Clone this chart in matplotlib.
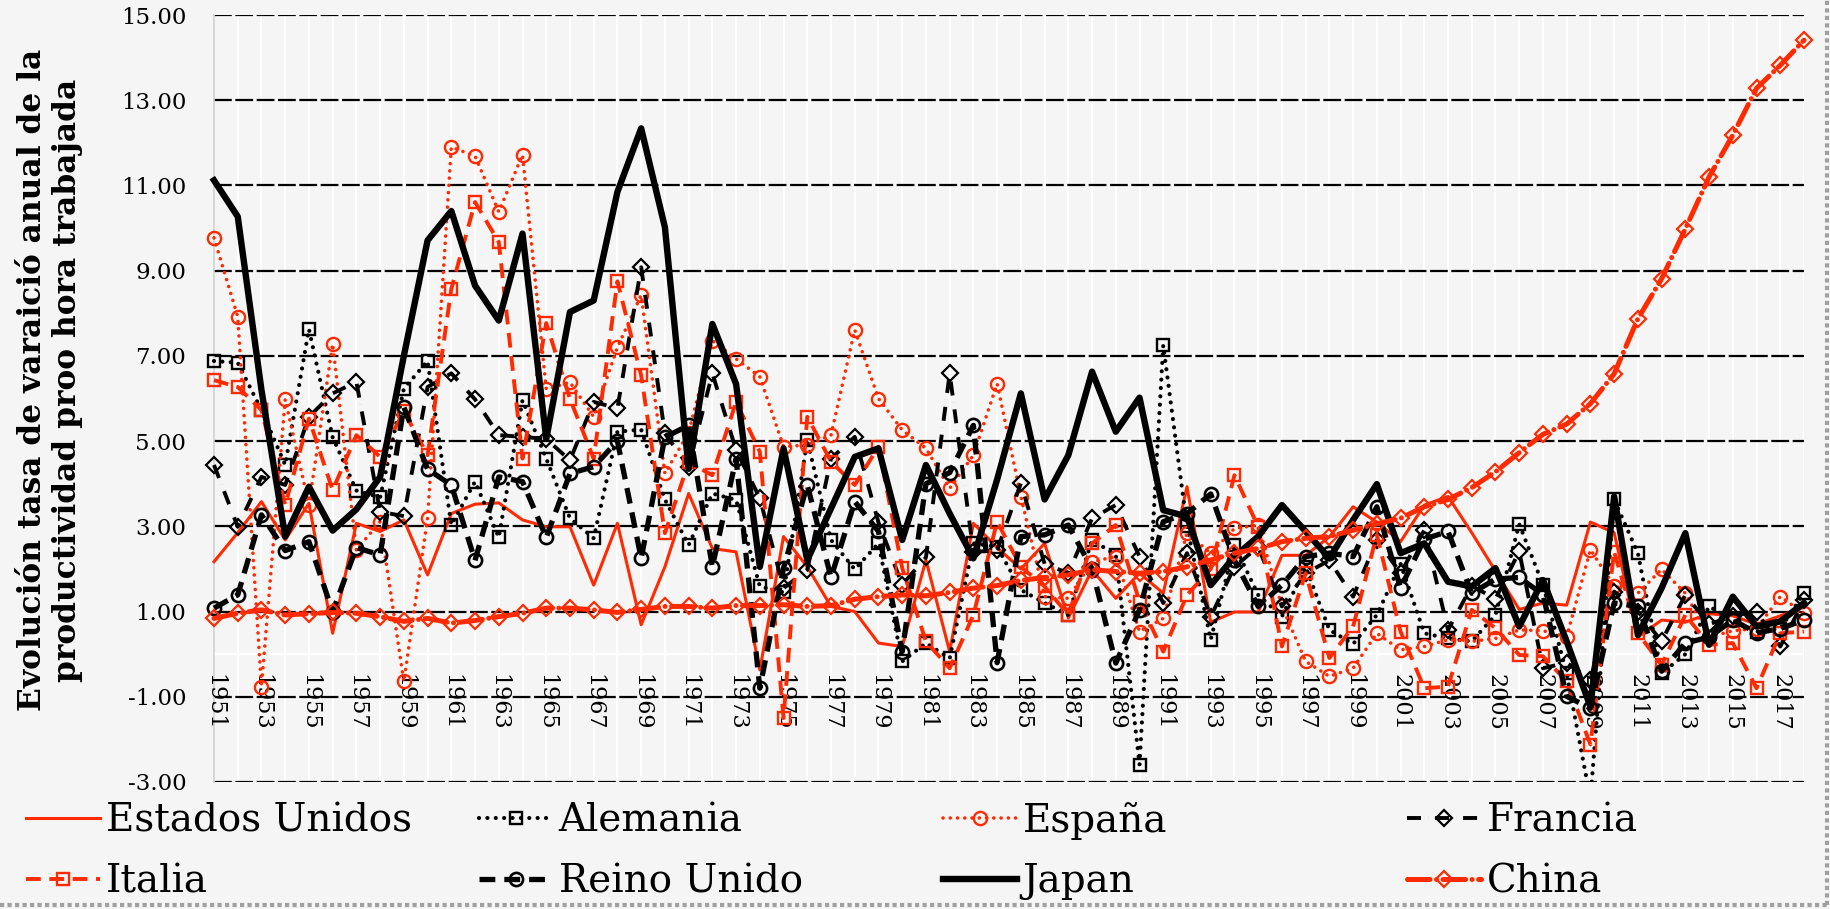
import matplotlib
matplotlib.use("Agg")
import matplotlib.pyplot as plt
from matplotlib.lines import Line2D
from matplotlib.patches import Rectangle
import numpy as np

# ---------------- data ----------------
years = list(range(1951, 2019))

estados_unidos = [2.17, 2.85, 3.58, 2.68, 3.54, 0.49, 3.07, 2.88, 3.15, 1.86,
                  3.30, 3.52, 3.55, 3.15, 2.99, 2.99, 1.62, 3.07, 0.69, 2.05,
                  3.77, 2.48, 2.40, -0.37, 2.76, 2.05, 1.12, 1.00, 0.26, 0.18,
                  2.21, 0.06, 3.07, 2.50, 2.00, 2.60, 0.85, 1.98, 1.31, 1.90,
                  1.43, 3.93, 0.75, 0.99, 0.99, 2.32, 2.32, 2.75, 3.46, 3.10,
                  2.64, 3.50, 3.70, 2.85, 1.95, 1.05, 1.20, 1.15, 3.10, 2.85,
                  0.40, 0.80, 0.75, 0.95, 0.90, 0.70, 0.90, 1.10]

alemania = [6.88, 6.84, 5.73, 4.44, 7.63, 5.09, 3.84, 3.68, 6.23, 6.88,
            3.03, 4.05, 2.74, 5.96, 4.59, 3.19, 2.72, 5.22, 5.27, 3.63,
            2.56, 3.77, 3.62, 1.59, 1.45, 5.02, 2.68, 1.99, 2.60, -0.17,
            0.26, -0.10, 2.60, 2.52, 1.51, 1.20, 0.92, 2.68, 2.33, -2.59,
            7.25, 3.00, 0.34, 2.56, 1.39, 0.88, 2.05, 0.57, 0.24, 0.92,
            2.12, 0.49, 0.37, 0.30, 0.92, 3.05, 1.63, -0.45, -3.40, 3.63,
            2.37, -0.45, 0.00, 1.12, 0.80, 0.53, 0.60, 1.43]

espana = [9.77, 7.92, -0.76, 5.98, 3.50, 7.28, 2.45, 3.11, -0.64, 3.19,
          11.90, 11.69, 10.38, 11.72, 6.22, 6.38, 5.57, 7.20, 8.43, 4.24,
          5.20, 7.36, 6.93, 6.51, 4.87, 4.91, 5.14, 7.61, 6.00, 5.26,
          4.83, 3.89, 4.67, 6.35, 3.70, 1.35, 1.31, 2.17, 2.29, 0.53,
          0.84, 2.84, 2.37, 2.95, 3.03, 1.12, -0.17, -0.52, -0.33, 0.49,
          0.10, 0.18, 0.34, 0.30, 0.37, 0.57, 0.55, 0.41, 2.45, 1.60,
          1.43, 1.99, 1.43, 0.40, 0.55, 0.60, 1.35, 0.96]

francia = [4.44, 2.99, 4.16, 3.97, 5.57, 6.12, 6.39, 3.34, 3.24, 6.27,
           6.59, 5.98, 5.14, 5.10, 5.05, 4.55, 5.92, 5.77, 9.08, 5.18,
           4.40, 6.59, 4.79, 3.66, 1.55, 1.98, 4.59, 5.10, 3.09, 1.63,
           2.27, 6.59, 2.40, 2.44, 4.01, 2.12, 1.90, 3.19, 3.50, 2.29,
           1.20, 2.37, 0.88, 2.05, 2.52, 1.12, 1.90, 2.20, 1.35, 2.68,
           1.90, 2.91, 0.57, 1.60, 1.30, 2.41, -0.33, -0.20, -0.60, 1.47,
           1.00, 0.30, 1.39, 0.70, 0.90, 1.00, 0.18, 1.27]

italia = [6.43, 6.27, 5.73, 3.50, 5.53, 3.85, 5.14, 4.63, 5.70, 4.67,
          8.57, 10.61, 9.67, 4.59, 7.77, 5.99, 4.59, 8.75, 6.54, 2.84,
          4.50, 4.20, 5.92, 4.75, -1.50, 5.57, 4.52, 3.97, 4.87, 2.02,
          0.30, -0.33, 0.92, 3.11, 2.05, 1.59, 0.92, 2.60, 3.03, 1.23,
          0.06, 1.39, 2.00, 4.20, 2.99, 0.18, 1.90, -0.09, 0.65, 2.80,
          0.53, -0.80, -0.76, 1.04, 0.61, -0.02, -0.05, -0.64, -2.12, 2.40,
          0.49, -0.25, 0.92, 0.22, 0.26, -0.80, 0.49, 0.53]

reino_unido = [1.08, 1.39, 3.27, 2.43, 2.64, 1.00, 2.50, 2.33, 5.80, 4.34,
               3.97, 2.20, 4.16, 4.05, 2.74, 4.24, 4.40, 5.00, 2.25, 5.09,
               5.37, 2.05, 4.59, -0.80, 2.02, 3.97, 1.80, 3.58, 2.88, 0.06,
               4.00, 4.26, 5.37, -0.20, 2.76, 2.80, 3.03, 2.00, -0.21, 1.04,
               3.11, 3.30, 3.76, 2.20, 1.12, 1.62, 2.29, 2.37, 2.29, 3.46,
               1.55, 2.70, 2.88, 1.43, 1.76, 1.80, 1.40, -0.99, -1.27, 1.20,
               1.12, -0.40, 0.26, 0.40, 0.80, 0.50, 0.60, 0.80]

japan = [11.12, 10.27, 6.20, 2.76, 3.93, 2.90, 3.40, 4.16, 7.00, 9.71,
         10.40, 8.65, 7.83, 9.87, 5.05, 8.03, 8.30, 10.85, 12.34, 10.02,
         4.35, 7.75, 6.34, 2.05, 4.83, 2.21, 3.42, 4.63, 4.83, 2.68,
         4.44, 3.30, 2.25, 4.10, 6.12, 3.63, 4.67, 6.63, 5.22, 6.02,
         3.38, 3.23, 1.62, 2.29, 2.76, 3.50, 2.88, 2.25, 3.15, 3.99,
         2.37, 2.60, 1.70, 1.59, 2.02, 0.65, 1.74, 0.30, -1.23, 3.70,
         0.45, 1.55, 2.84, 0.22, 1.35, 0.65, 0.77, 1.20]

china = [0.84, 0.96, 1.04, 0.92, 0.95, 0.98, 0.96, 0.88, 0.77, 0.84,
         0.73, 0.79, 0.88, 0.96, 1.08, 1.08, 1.04, 0.98, 1.05, 1.12,
         1.12, 1.08, 1.14, 1.14, 1.16, 1.12, 1.14, 1.29, 1.35, 1.39,
         1.37, 1.45, 1.55, 1.61, 1.73, 1.80, 1.86, 1.98, 1.94, 1.90,
         1.94, 2.05, 2.21, 2.37, 2.48, 2.64, 2.72, 2.76, 2.91, 3.06,
         3.19, 3.46, 3.63, 3.91, 4.28, 4.73, 5.16, 5.40, 5.88, 6.58,
         7.87, 8.81, 9.98, 11.20, 12.18, 13.28, 13.82, 14.41]

series_names = ["Estados Unidos", "Alemania", "España", "Francia",
                "Italia", "Reino Unido", "Japan", "China"]

y_ticks = [-3, -1, 1, 3, 5, 7, 9, 11, 13, 15]
y_tick_labels = ["-3.00", "-1.00", "1.00", "3.00", "5.00", "7.00",
                 "9.00", "11.00", "13.00", "15.00"]
x_label_years = list(range(1951, 2018, 2))
x_tick_labels = [str(y) for y in x_label_years]

ylabel_text = ("Evolución tasa de varaició anual de la\n"
               "productividad proo hora trabajada")

# ---------------- style ----------------
RED = "#ff2a00"
BG = "#f5f5f5"
FONT = "DejaVu Serif"
W, H = 1831, 909

fig = plt.figure(figsize=(W / 100, H / 100), dpi=100)
fig.patch.set_facecolor(BG)

left, right, top, bottom = 214, 1804, 15, 782
ax = fig.add_axes([left / W, 1 - bottom / H, (right - left) / W, (bottom - top) / H])
ax.set_facecolor(BG)
ax.set_xlim(1951, 2018)
ax.set_ylim(-3, 15)

ax.set_yticks(y_ticks)
ax.set_yticklabels(y_tick_labels, fontfamily=FONT, fontsize=16.5)
ax.set_xticks(years)
ax.set_xticklabels([])
ax.tick_params(axis="both", length=0)
ax.tick_params(axis="y", pad=20)

ax.set_axisbelow(True)
ax.grid(axis="x", color="white", lw=1.3)
ax.grid(axis="y", color="black", lw=1.6, linestyle=(0, (8, 1.6)))
for s in ["top", "right", "bottom"]:
    ax.spines[s].set_visible(False)
ax.spines["left"].set_color("#d0d0d0")
ax.spines["left"].set_linewidth(1.2)
ax.axhline(0, color="white", lw=1.6, zorder=1)

# x labels (odd years, vertical, under the 0 axis)
for yr, lab in zip(x_label_years, x_tick_labels):
    ax.text(yr, -0.47, lab, rotation=-90, ha="center", va="top",
            fontsize=16, fontfamily=FONT, color="black")

styles = [
    dict(color=RED, lw=2.2, ls="-"),
    dict(color="black", lw=3.0, ls=(0, (0.01, 2.0)), dash_capstyle="round",
         marker="s", ms=9, mfc="none", mec="black", mew=1.7),
    dict(color=RED, lw=2.6, ls=(0, (0.01, 2.0)), dash_capstyle="round",
         marker="o", ms=9.5, mfc="none", mec=RED, mew=1.7),
    dict(color="black", lw=2.8, ls=(0, (3.6, 1.8, 0.01, 1.8)), dash_capstyle="butt",
         marker="D", ms=8, mfc="none", mec="black", mew=1.6),
    dict(color=RED, lw=2.8, ls=(0, (3.8, 2.2)),
         marker="s", ms=9, mfc="none", mec=RED, mew=1.7),
    dict(color="black", lw=3.8, ls=(0, (3.0, 1.7)),
         marker="o", ms=9.5, mfc="none", mec="black", mew=1.9),
    dict(color="black", lw=4.6, ls="-"),
    dict(color=RED, lw=3.6, ls=(0, (4.5, 1.3, 0.01, 1.3)), dash_capstyle="round",
         marker="D", ms=8, mfc="none", mec=RED, mew=1.6),
]
data = [estados_unidos, alemania, espana, francia, italia, reino_unido, japan, china]

clip = Rectangle((-0.02, 0), 1.04, 1, transform=ax.transAxes, facecolor="none",
                 edgecolor="none")
ax.add_patch(clip)
lines = []
for i, (vals, st) in enumerate(zip(data, styles)):
    (ln,) = ax.plot(years, vals, zorder=3 + i, **st)
    ln.set_clip_path(clip)
    lines.append(ln)

# y label
fig.text(50 / W, 1 - 380 / H, ylabel_text, rotation=90, ha="center", va="center",
         fontsize=22.5, fontweight="bold", fontfamily=FONT, linespacing=1.2,
         multialignment="center")

# legend, 2 rows x 4 columns, fixed column positions
col_x = [26, 479, 943, 1407]
row_y = [821, 882]
for k, (ln, name) in enumerate(zip(lines, series_names)):
    r, c = divmod(k, 4)
    fig.legend([ln], [name], loc="center left",
               bbox_to_anchor=(col_x[c] / W, 1 - row_y[r] / H),
               frameon=False, prop={"family": FONT, "size": 28},
               handlelength=1.9, handletextpad=0.15, borderpad=0,
               borderaxespad=0, numpoints=1)

# chart-area border (dotted, right and bottom)
fig.add_artist(Line2D([0, 1827 / W], [1 - 905 / H] * 2, transform=fig.transFigure,
                      color="#a0a0a0", lw=3, ls=(0, (1, 0.8))))
fig.add_artist(Line2D([1827 / W] * 2, [1 - 905 / H, 1], transform=fig.transFigure,
                      color="#a0a0a0", lw=3, ls=(0, (1, 0.8))))

fig.savefig("out.png", dpi=100, facecolor=BG)
